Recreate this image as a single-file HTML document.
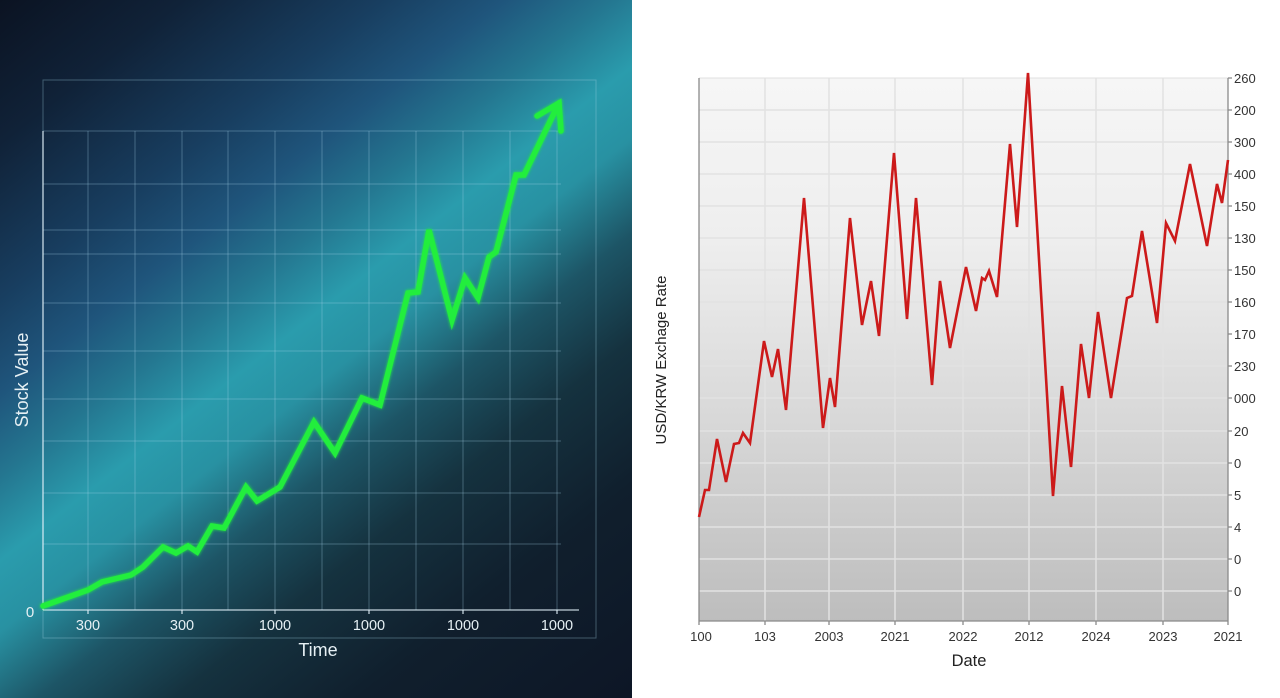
<!DOCTYPE html>
<html>
<head>
<meta charset="utf-8">
<style>
html,body{margin:0;padding:0;background:#fff;}
body{width:1280px;height:698px;overflow:hidden;position:relative;font-family:"Liberation Sans",sans-serif;}
#left{position:absolute;left:0;top:0;width:632px;height:698px;
background:linear-gradient(142deg,#0b1322 0%,#102238 12%,#183e60 25%,#1f557c 33%,#247690 40%,#2a9cad 47%,#2891a2 53%,#1d5566 61%,#15323f 70%,#101f2d 82%,#0d1626 100%);}
svg{position:absolute;left:0;top:0;}
</style>
</head>
<body>
<div id="left"></div>
<svg width="1280" height="698" viewBox="0 0 1280 698" xmlns="http://www.w3.org/2000/svg">
<defs>
<linearGradient id="plotbg" x1="0" y1="0" x2="0" y2="1">
<stop offset="0" stop-color="#f6f6f6"/>
<stop offset="0.3" stop-color="#eeeeee"/>
<stop offset="0.6" stop-color="#dadada"/>
<stop offset="1" stop-color="#bdbdbd"/>
</linearGradient>
<filter id="glow" x="-10%" y="-10%" width="120%" height="120%">
<feGaussianBlur stdDeviation="1.5" result="b"/>
<feMerge><feMergeNode in="b"/><feMergeNode in="SourceGraphic"/></feMerge>
</filter>
</defs>

<!-- LEFT CHART -->
<g>
<rect x="43" y="80" width="553" height="558" fill="none" stroke="rgba(160,210,225,0.35)" stroke-width="1"/>
<g stroke="rgba(170,215,235,0.32)" stroke-width="1">
<line x1="43" y1="131" x2="561" y2="131"/>
<line x1="43" y1="184" x2="561" y2="184"/>
<line x1="43" y1="230" x2="561" y2="230"/>
<line x1="43" y1="254" x2="561" y2="254"/>
<line x1="43" y1="303" x2="561" y2="303"/>
<line x1="43" y1="351" x2="561" y2="351"/>
<line x1="43" y1="399" x2="561" y2="399"/>
<line x1="43" y1="441" x2="561" y2="441"/>
<line x1="43" y1="493" x2="561" y2="493"/>
<line x1="43" y1="544" x2="561" y2="544"/>
<line x1="88" y1="131" x2="88" y2="610"/>
<line x1="135" y1="131" x2="135" y2="610"/>
<line x1="182" y1="131" x2="182" y2="610"/>
<line x1="228" y1="131" x2="228" y2="610"/>
<line x1="275" y1="131" x2="275" y2="610"/>
<line x1="322" y1="131" x2="322" y2="610"/>
<line x1="369" y1="131" x2="369" y2="610"/>
<line x1="416" y1="131" x2="416" y2="610"/>
<line x1="463" y1="131" x2="463" y2="610"/>
<line x1="510" y1="131" x2="510" y2="610"/>
<line x1="557" y1="131" x2="557" y2="610"/>
</g>
<g stroke="rgba(225,240,248,0.85)" stroke-width="1.3">
<line x1="43" y1="131" x2="43" y2="610"/>
<line x1="43" y1="610" x2="579" y2="610"/>
<line x1="88" y1="610" x2="88" y2="614"/>
<line x1="182" y1="610" x2="182" y2="614"/>
<line x1="275" y1="610" x2="275" y2="614"/>
<line x1="369" y1="610" x2="369" y2="614"/>
<line x1="463" y1="610" x2="463" y2="614"/>
<line x1="557" y1="610" x2="557" y2="614"/>
</g>
<g fill="#e6f0f4" font-family="Liberation Sans, sans-serif" font-size="14.5" text-anchor="middle">
<text x="88" y="630">300</text>
<text x="182" y="630">300</text>
<text x="275" y="630">1000</text>
<text x="369" y="630">1000</text>
<text x="463" y="630">1000</text>
<text x="557" y="630">1000</text>
<text x="30" y="617" font-size="15">0</text>
<text x="318" y="656" font-size="18">Time</text>
<text transform="translate(28,380) rotate(-90)" font-size="18">Stock Value</text>
</g>
<g fill="none" stroke="#22ee3c" stroke-width="5.5" stroke-linejoin="miter" stroke-linecap="round" filter="url(#glow)">
<polyline points="43,606 88,590 102,582 131,575 143,567 163,547 176,553 188,546 197,552 212,526 224,528 246,487 257,501 280,487 314,422 335,453 362,398 380,405 408,293 418,292 429,230 452,320 465,278 478,298 489,257 496,252 516,175 524,175 559,103"/>
<polyline points="537,116 559,103 561,131"/>
</g>
</g>

<!-- RIGHT CHART -->
<g>
<rect x="699" y="78" width="529" height="543" fill="url(#plotbg)"/>
<g stroke="#e2e2e2" stroke-width="1.5">
<line x1="699" y1="110" x2="1228" y2="110"/>
<line x1="699" y1="142" x2="1228" y2="142"/>
<line x1="699" y1="174" x2="1228" y2="174"/>
<line x1="699" y1="206" x2="1228" y2="206"/>
<line x1="699" y1="238" x2="1228" y2="238"/>
<line x1="699" y1="270" x2="1228" y2="270"/>
<line x1="699" y1="302" x2="1228" y2="302"/>
<line x1="699" y1="334" x2="1228" y2="334"/>
<line x1="699" y1="366" x2="1228" y2="366"/>
<line x1="699" y1="398" x2="1228" y2="398"/>
<line x1="699" y1="431" x2="1228" y2="431"/>
<line x1="699" y1="463" x2="1228" y2="463"/>
<line x1="699" y1="495" x2="1228" y2="495"/>
<line x1="699" y1="527" x2="1228" y2="527"/>
<line x1="699" y1="559" x2="1228" y2="559"/>
<line x1="699" y1="591" x2="1228" y2="591"/>
<line x1="765" y1="78" x2="765" y2="621"/>
<line x1="829" y1="78" x2="829" y2="621"/>
<line x1="895" y1="78" x2="895" y2="621"/>
<line x1="963" y1="78" x2="963" y2="621"/>
<line x1="1029" y1="78" x2="1029" y2="621"/>
<line x1="1096" y1="78" x2="1096" y2="621"/>
<line x1="1163" y1="78" x2="1163" y2="621"/>
</g>
<line x1="699" y1="78" x2="1228" y2="78" stroke="#e0e0e0" stroke-width="1"/>
<g stroke="#8a8a8a" stroke-width="1.3">
<line x1="699" y1="78" x2="699" y2="621"/>
<line x1="1228" y1="78" x2="1228" y2="621"/>
<line x1="699" y1="621" x2="1228" y2="621"/>
<line x1="1228" y1="78" x2="1232" y2="78"/>
<line x1="1228" y1="110" x2="1232" y2="110"/>
<line x1="1228" y1="142" x2="1232" y2="142"/>
<line x1="1228" y1="174" x2="1232" y2="174"/>
<line x1="1228" y1="206" x2="1232" y2="206"/>
<line x1="1228" y1="238" x2="1232" y2="238"/>
<line x1="1228" y1="270" x2="1232" y2="270"/>
<line x1="1228" y1="302" x2="1232" y2="302"/>
<line x1="1228" y1="334" x2="1232" y2="334"/>
<line x1="1228" y1="366" x2="1232" y2="366"/>
<line x1="1228" y1="398" x2="1232" y2="398"/>
<line x1="1228" y1="431" x2="1232" y2="431"/>
<line x1="1228" y1="463" x2="1232" y2="463"/>
<line x1="1228" y1="495" x2="1232" y2="495"/>
<line x1="1228" y1="527" x2="1232" y2="527"/>
<line x1="1228" y1="559" x2="1232" y2="559"/>
<line x1="1228" y1="591" x2="1232" y2="591"/>
<line x1="699" y1="621" x2="699" y2="625"/>
<line x1="765" y1="621" x2="765" y2="625"/>
<line x1="829" y1="621" x2="829" y2="625"/>
<line x1="895" y1="621" x2="895" y2="625"/>
<line x1="963" y1="621" x2="963" y2="625"/>
<line x1="1029" y1="621" x2="1029" y2="625"/>
<line x1="1096" y1="621" x2="1096" y2="625"/>
<line x1="1163" y1="621" x2="1163" y2="625"/>
<line x1="1228" y1="621" x2="1228" y2="625"/>
</g>
<polyline fill="none" stroke="#cc1a1a" stroke-width="2.6" stroke-linejoin="miter"
points="699,517 705,490 709,490 717,439 726,482 734,444 739,443 743,433 750,443 764,341 772,377 778,349 786,410 804,198 823,428 830,378 835,407 850,218 862,325 871,281 879,336 894,153 907,319 916,198 932,385 940,281 950,348 966,267 976,311 982,278 985,280 989,271 997,297 1010,144 1017,227 1028,73 1053,496 1062,386 1071,467 1081,344 1089,398 1098,312 1111,398 1127,298 1132,296 1142,231 1157,323 1166,223 1175,241 1190,164 1207,246 1217,184 1222,203 1228,160"/>
<g fill="#333" font-family="Liberation Sans, sans-serif" font-size="13">
<text x="1234" y="83">260</text>
<text x="1234" y="115">200</text>
<text x="1234" y="147">300</text>
<text x="1234" y="179">400</text>
<text x="1234" y="211">150</text>
<text x="1234" y="243">130</text>
<text x="1234" y="275">150</text>
<text x="1234" y="307">160</text>
<text x="1234" y="339">170</text>
<text x="1234" y="371">230</text>
<text x="1234" y="403">000</text>
<text x="1234" y="436">20</text>
<text x="1234" y="468">0</text>
<text x="1234" y="500">5</text>
<text x="1234" y="532">4</text>
<text x="1234" y="564">0</text>
<text x="1234" y="596">0</text>
</g>
<g fill="#333" font-family="Liberation Sans, sans-serif" font-size="13" text-anchor="middle">
<text x="701" y="641">100</text>
<text x="765" y="641">103</text>
<text x="829" y="641">2003</text>
<text x="895" y="641">2021</text>
<text x="963" y="641">2022</text>
<text x="1029" y="641">2012</text>
<text x="1096" y="641">2024</text>
<text x="1163" y="641">2023</text>
<text x="1228" y="641">2021</text>
<text x="969" y="666" font-size="16.5" fill="#222">Date</text>
<text transform="translate(666,360) rotate(-90)" font-size="15" fill="#222">USD/KRW Exchage Rate</text>
</g>
</g>
</svg>
</body>
</html>
